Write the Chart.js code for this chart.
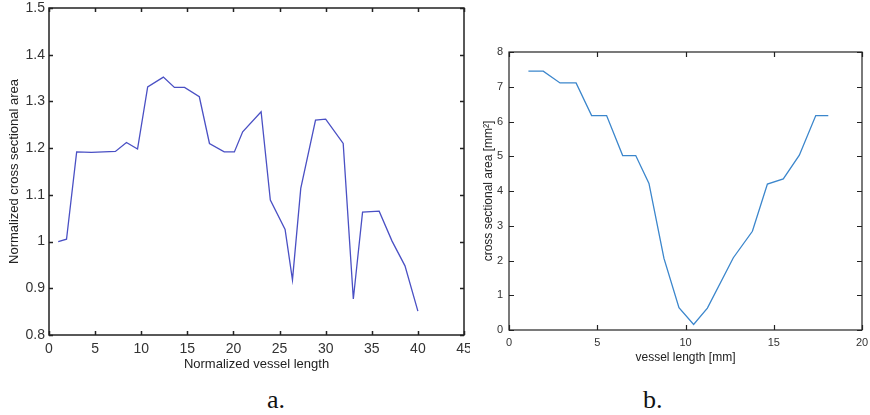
<!DOCTYPE html>
<html>
<head>
<meta charset="utf-8">
<script src="https://cdn.jsdelivr.net/npm/chart.js@4.4.1/dist/chart.umd.min.js"></script>
<style>
  body { margin: 0; background: #fff; width: 870px; height: 415px; position: relative; overflow: hidden; }
  .wrap { position: absolute; top: 0; }
  .cap { position: absolute; font-family: "Liberation Serif", "Times New Roman", serif; font-size: 26px; color: #111; }
</style>
</head>
<body>
<div class="wrap" style="left:0;width:470px;height:375px"><canvas id="chartA"></canvas></div>
<div class="wrap" style="left:470px;width:400px;height:375px"><canvas id="chartB"></canvas></div>
<div class="cap" style="left:267px;top:385px">a.</div>
<div class="cap" style="left:643px;top:385px">b.</div>
<script>
// panel a: normalized values
const lengthA = [1.0, 1.9, 3.0, 4.6, 7.2, 8.4, 9.6, 10.7, 12.4, 13.6, 14.7, 16.3, 17.4, 19.0, 20.1,
  21.0, 23.0, 24.0, 25.6, 26.4, 27.3, 28.9, 30.0, 31.9, 33.0, 34.0, 35.8, 37.2, 38.6, 40.0];
const areaA = [1.000, 1.005, 1.192, 1.191, 1.193, 1.212, 1.198, 1.331, 1.352, 1.330, 1.330, 1.310, 1.210, 1.192, 1.192,
  1.235, 1.278, 1.089, 1.026, 0.918, 1.114, 1.260, 1.262, 1.210, 0.877, 1.063, 1.065, 1.001, 0.948, 0.851];

// panel b: mm values
const lengthB = [1.1, 1.94, 2.89, 3.8, 4.68, 5.53, 6.44, 7.18, 7.93, 8.78, 9.63, 10.46, 11.24, 12.71,
  13.79, 14.64, 15.54, 16.45, 17.38, 18.09];
const areaB = [7.45, 7.45, 7.11, 7.11, 6.17, 6.17, 5.02, 5.02, 4.22, 2.06, 0.64, 0.16, 0.63, 2.08,
  2.84, 4.20, 4.35, 5.03, 6.17, 6.17];

const axisA = { xMin: 0, xMax: 45, xStep: 5, yMin: 0.8, yMax: 1.5, yStep: 0.1 };
const axisB = { xMin: 0, xMax: 20, xStep: 5, yMin: 0, yMax: 8, yStep: 1 };

// matlab style box with inward ticks on every side
const boxPlugin = {
  id: 'box',
  afterDraw(chart, args, opts) {
    const { ctx, chartArea: a, scales } = chart;
    const len = opts.len || 4;
    ctx.save();
    ctx.strokeStyle = opts.color || '#222';
    ctx.lineWidth = opts.width || 1;
    ctx.strokeRect(a.left, a.top, a.right - a.left, a.bottom - a.top);
    ctx.beginPath();
    scales.x.ticks.forEach(t => {
      const px = Math.round(scales.x.getPixelForValue(t.value)) + 0.5;
      ctx.moveTo(px, a.bottom); ctx.lineTo(px, a.bottom - len);
      ctx.moveTo(px, a.top); ctx.lineTo(px, a.top + len);
    });
    scales.y.ticks.forEach(t => {
      const py = Math.round(scales.y.getPixelForValue(t.value)) + 0.5;
      ctx.moveTo(a.left, py); ctx.lineTo(a.left + len, py);
      ctx.moveTo(a.right, py); ctx.lineTo(a.right - len, py);
    });
    ctx.stroke();
    ctx.restore();
  }
};

function makeChart(id, xs, ys, ax, o) {
  const font = { family: '"Liberation Sans", Arial, sans-serif', size: o.tickSize };
  return new Chart(document.getElementById(id), {
    type: 'scatter',
    data: {
      datasets: [{
        data: xs.map((x, i) => ({ x: x, y: ys[i] })),
        showLine: true,
        borderColor: o.color,
        borderWidth: 1.3,
        pointRadius: 0,
        tension: 0
      }]
    },
    options: {
      responsive: true,
      maintainAspectRatio: false,
      animation: false,
      layout: { padding: { top: o.padTop, right: o.padRight, left: 0, bottom: 0 } },
      plugins: { legend: { display: false }, tooltip: { enabled: false }, box: { len: o.tickLen, width: o.boxWidth } },
      scales: {
        x: {
          type: 'linear', min: ax.xMin, max: ax.xMax,
          grid: { display: false, drawTicks: false },
          border: { display: false },
          ticks: { stepSize: ax.xStep, font: font, color: '#333', padding: o.xPad, maxRotation: 0 },
          title: { display: true, text: o.xTitle, font: { family: font.family, size: o.titleSize }, color: '#222', padding: o.xTitlePad },
          afterFit(s) { s.height = o.xHeight; s.paddingLeft = 0; s.paddingRight = 0; }
        },
        y: {
          type: 'linear', min: ax.yMin, max: ax.yMax,
          grid: { display: false, drawTicks: false },
          border: { display: false },
          ticks: { stepSize: ax.yStep, font: font, color: '#333', padding: o.yPad,
            callback: v => String(Math.round(v * 10) / 10) },
          title: { display: true, text: o.yTitle, font: { family: font.family, size: o.titleSize }, color: '#222', padding: o.yTitlePad },
          afterFit(s) { s.width = o.yWidth; s.paddingTop = 0; s.paddingBottom = 0; }
        }
      }
    },
    plugins: [boxPlugin]
  });
}

makeChart('chartA', lengthA, areaA, axisA, {
  color: '#4a50c4', tickSize: 14, titleSize: 13, padTop: 8, padRight: 6,
  xPad: 6, yPad: 4, xHeight: 40, yWidth: 49, tickLen: 4, boxWidth: 1.5,
  xTitle: 'Normalized vessel length', yTitle: 'Normalized cross sectional area',
  xTitlePad: { top: 3, bottom: 3 }, yTitlePad: { top: 7, bottom: 7 }
});

makeChart('chartB', lengthB, areaB, axisB, {
  color: '#3b86cc', tickSize: 11, titleSize: 12, padTop: 52, padRight: 8,
  xPad: 6, yPad: 6, xHeight: 45, yWidth: 39, tickLen: 5, boxWidth: 1.2,
  xTitle: 'vessel length [mm]', yTitle: 'cross sectional area [mm²]',
  xTitlePad: { top: 10, bottom: 10 }, yTitlePad: { top: 11, bottom: 11 }
});
</script>
</body>
</html>
